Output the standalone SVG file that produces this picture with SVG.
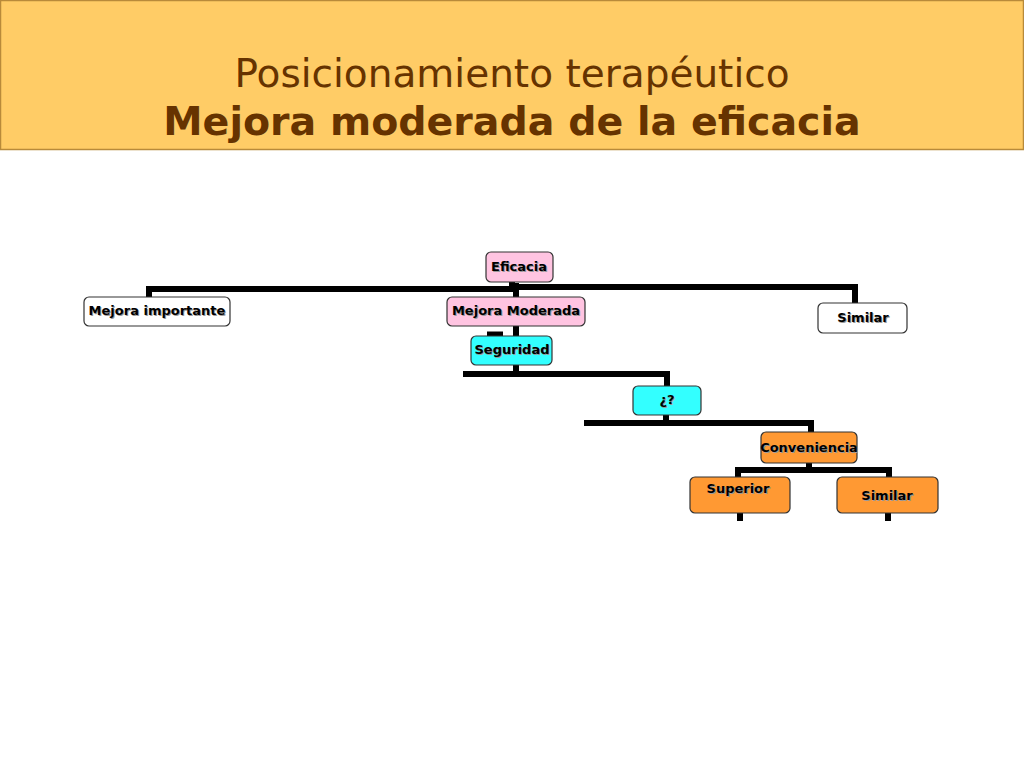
<svg xmlns="http://www.w3.org/2000/svg" width="1024" height="768" viewBox="0 0 1024 768">
<style>
.hdr{fill:#663300;font-family:"DejaVu Sans",Verdana,sans-serif;text-anchor:middle}
.box{stroke:#333333;stroke-width:1.2}
.white{fill:#FFFFFF}
.pink{fill:#FFC4E1}
.cyan{fill:#33FFFF}
.orange{fill:#FF9933}
.lbl{font-family:"DejaVu Sans",Verdana,sans-serif;font-weight:bold;font-size:13px;text-anchor:middle;fill:#000000}
.sh{fill:#9a9a9a}
.conn{stroke:#000000;stroke-width:6;fill:none;stroke-linecap:butt}
</style>
<rect x="0" y="0" width="1024" height="768" fill="#FFFFFF"/>
<g id="header">
<rect x="0.5" y="0.5" width="1023" height="149" fill="#FFCC66" stroke="#B88A3A" stroke-width="1.5"/>
<text class="hdr" x="512" y="87" font-size="39">Posicionamiento terapéutico</text>
<text class="hdr" x="512" y="135" font-size="39.5" font-weight="bold">Mejora moderada de la eficacia</text>
</g>
<g id="connectors">
<path class="conn" d="M149,297 V289 H516"/>
<path class="conn" d="M516,283 V297"/>
<path class="conn" d="M512,282 V290"/>
<path class="conn" d="M513,287 H855 V303"/>
<path class="conn" d="M516,326 V336"/>
<path class="conn" d="M487,334.5 H503" stroke-width="3"/>
<path class="conn" d="M516,365 V374"/>
<path class="conn" d="M463,374 H667 V386"/>
<path class="conn" d="M666,415 V423"/>
<path class="conn" d="M584,423 H811 V432"/>
<path class="conn" d="M809,463 V470"/>
<path class="conn" d="M738,477 V470 H889 V477"/>
<path class="conn" d="M740,513 V521"/>
<path class="conn" d="M888,513 V521"/>
</g>
<g id="node-eficacia">
<rect class="box pink" x="486" y="252" width="67" height="30" rx="5"/>
<text class="lbl sh" x="520" y="272">Eficacia</text>
<text class="lbl" x="519" y="271">Eficacia</text>
</g>
<g id="node-mejora-importante">
<rect class="box white" x="84" y="297" width="146" height="29" rx="5"/>
<text class="lbl sh" x="158" y="316">Mejora importante</text>
<text class="lbl" x="157" y="315">Mejora importante</text>
</g>
<g id="node-mejora-moderada">
<rect class="box pink" x="447" y="297" width="138" height="29" rx="5"/>
<text class="lbl sh" x="517" y="316">Mejora Moderada</text>
<text class="lbl" x="516" y="315">Mejora Moderada</text>
</g>
<g id="node-similar-top">
<rect class="box white" x="818" y="303" width="89" height="30" rx="5"/>
<text class="lbl sh" x="864" y="323">Similar</text>
<text class="lbl" x="863" y="322">Similar</text>
</g>
<g id="node-seguridad">
<rect class="box cyan" x="471" y="336" width="81" height="29" rx="5"/>
<text class="lbl sh" x="513" y="355">Seguridad</text>
<text class="lbl" x="512" y="354">Seguridad</text>
</g>
<g id="node-interrogante">
<rect class="box cyan" x="633" y="386" width="68" height="29" rx="5"/>
<text class="lbl sh" x="668" y="405">¿?</text>
<text class="lbl" x="667" y="404">¿?</text>
</g>
<g id="node-conveniencia">
<rect class="box orange" x="761" y="432" width="96" height="31" rx="5"/>
<text class="lbl sh" x="810" y="453">Conveniencia</text>
<text class="lbl" x="809" y="452">Conveniencia</text>
</g>
<g id="node-superior">
<rect class="box orange" x="690" y="477" width="100" height="36" rx="5"/>
<text class="lbl sh" x="739" y="494">Superior</text>
<text class="lbl" x="738" y="493">Superior</text>
</g>
<g id="node-similar-bottom">
<rect class="box orange" x="837" y="477" width="101" height="36" rx="5"/>
<text class="lbl sh" x="888" y="501">Similar</text>
<text class="lbl" x="887" y="500">Similar</text>
</g>
</svg>
